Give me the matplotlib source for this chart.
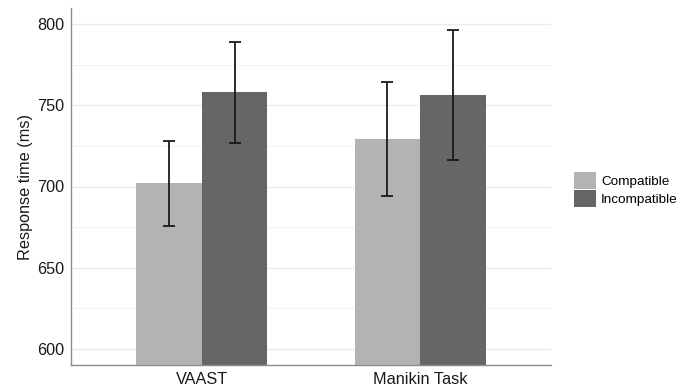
import numpy as np
import matplotlib
matplotlib.use("Agg")
import matplotlib.pyplot as plt
from matplotlib.patches import Patch

plt.rcParams['font.family'] = ['Liberation Sans', 'DejaVu Sans']

# ---- data ---------------------------------------------------------------
tasks = ["VAAST", "Manikin Task"]
conditions = ["Compatible", "Incompatible"]
means = {"Compatible": [702, 729], "Incompatible": [758, 756]}
ci_low = {"Compatible": [676, 694], "Incompatible": [727, 716]}
ci_high = {"Compatible": [728, 764], "Incompatible": [789, 796]}
colors = {"Compatible": "#b3b3b3", "Incompatible": "#666666"}

# ---- figure ---------------------------------------------------------------
fig = plt.figure(figsize=(6.88, 3.89), dpi=100)
ax = fig.add_axes([71 / 688, 24 / 389, 480 / 688, 357 / 389])

x = np.arange(1, len(tasks) + 1)
w = 0.3
for i, c in enumerate(conditions):
    xs = x + (i - 0.5) * w
    m = np.array(means[c])
    lo = m - np.array(ci_low[c])
    hi = np.array(ci_high[c]) - m
    ax.bar(xs, m - 500, bottom=500, width=w, color=colors[c], zorder=2)
    ax.errorbar(xs, m, yerr=[lo, hi], fmt="none", ecolor="#1a1a1a",
                elinewidth=1.3, capsize=4, capthick=1.3, zorder=3)

ax.set_xlim(0.4, 2.6)
ax.set_ylim(590.2, 809.8)
ax.set_xticks(x)
ax.set_xticklabels(tasks)
ax.set_yticks(np.arange(600, 801, 50))
ax.set_yticks(np.arange(625, 800, 50), minor=True)
ax.yaxis.grid(True, which="major", color="#ebebeb", lw=1.0, zorder=0)
ax.yaxis.grid(True, which="minor", color="#f2f2f2", lw=0.8, zorder=0)
ax.set_axisbelow(True)
ax.tick_params(axis="both", which="both", length=0, labelsize=11.7,
               colors="#1a1a1a")
ax.tick_params(axis="y", pad=5)
ax.tick_params(axis="x", pad=5)
ax.set_ylabel("Response time (ms)", fontsize=11.7, color="#1a1a1a", labelpad=3)

for s in ["top", "right"]:
    ax.spines[s].set_visible(False)
for s in ["left", "bottom"]:
    ax.spines[s].set_color("#8c8c8c")
    ax.spines[s].set_linewidth(1.0)

handles = [Patch(facecolor=colors[c], edgecolor="none") for c in conditions]
fig.legend(handles, conditions, loc="center left",
           bbox_to_anchor=(574 / 688, 1 - 189.5 / 389), frameon=False,
           fontsize=9.7, handlelength=1.6, handleheight=1.6,
           handletextpad=0.4, labelspacing=0.1, borderpad=0,
           borderaxespad=0)

fig.savefig("out.png", dpi=100)
